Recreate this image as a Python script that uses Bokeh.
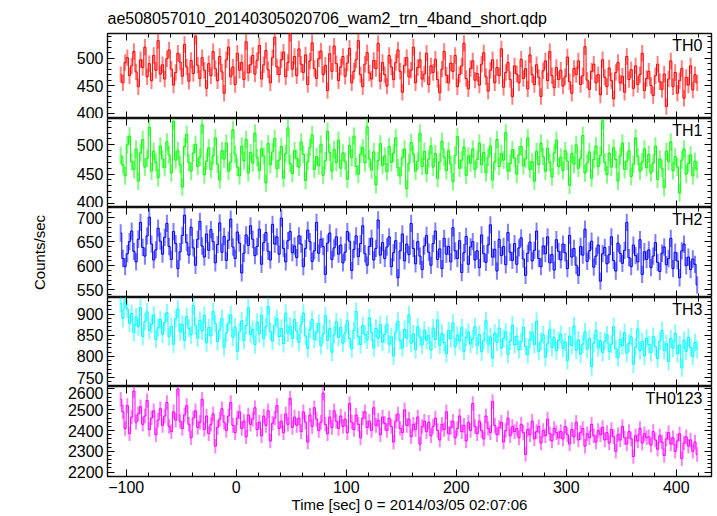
import numpy as np
from bokeh.plotting import figure
from bokeh.layouts import column
from bokeh.models import LinearAxis, FixedTicker, Range1d, Label, ColumnDataSource
from bokeh.embed import file_html
from bokeh.resources import INLINE

TITLE = "ae508057010_20140305020706_wam2_trn_4band_short.qdp"
X_LABEL = "Time [sec] 0 = 2014/03/05 02:07:06"
Y_LABEL = "Counts/sec"

# bin centres (2 s bins)
TIME = list(range(-105, 420, 2))

TH0 = [
 470, 455, 492, 501, 468, 486, 512, 475, 448, 497, 483, 520, 466, 490, 459, 505, 478, 532, 471, 488,
 462, 499, 515, 480, 451, 474, 509, 493, 467, 525, 484, 458, 496, 472, 540, 487, 463, 501, 478, 445,
 490, 468, 512, 481, 459, 503, 475, 436, 497, 520, 466, 484, 452, 509, 478, 492, 461, 530, 473, 488,
 505, 471, 496, 523, 462, 488, 514, 479, 455, 501, 538, 484, 470, 497, 511, 466, 492, 545, 480, 503,
 468, 517, 489, 474, 506, 452, 495, 528, 481, 463, 499, 513, 470, 487, 441, 508, 476, 522, 490, 459,
 484, 503, 467, 491, 518, 455, 476, 497, 532, 470, 448, 489, 510, 473, 462, 496, 481, 527, 458, 492,
 470, 449, 505, 484, 461, 492, 515, 476, 438, 487, 501, 466, 478, 520, 455, 483, 497, 462, 471, 509,
 452, 486, 474, 498, 461, 437, 480, 512, 469, 455, 491, 476, 505, 448, 470, 486, 527, 463, 444, 481,
 495, 460, 472, 451, 489, 510, 466, 440, 478, 497, 455, 483, 468, 517, 447, 474, 492, 461, 430, 486,
 471, 455, 498, 463, 481, 444, 506, 470, 452, 488, 465, 430, 477, 495, 459, 512, 468, 446, 483, 461,
 478, 449, 466, 502, 457, 436, 481, 470, 495, 452, 468, 521, 460, 443, 476, 489, 455, 470, 433, 497,
 465, 448, 482, 459, 426, 474, 492, 455, 467, 438, 503, 461, 479, 445, 486, 452, 470, 509, 441, 463,
 476, 450, 432, 468, 489, 457, 443, 471, 412, 462, 495, 448, 474, 436, 459, 481, 427, 465, 451, 486,
 442, 470, 455]

TH1 = [
 482, 466, 447, 500, 515, 471, 458, 493, 438, 486, 509, 462, 477, 530, 455, 489, 470, 444, 498, 476,
 461, 505, 483, 452, 540, 474, 490, 466, 428, 497, 518, 470, 455, 486, 501, 463, 479, 534, 449, 472,
 495, 458, 481, 512, 467, 440, 490, 476, 503, 455, 471, 526, 484, 462, 447, 498, 473, 509, 452, 487,
 469, 520, 478, 456, 493, 481, 435, 502, 466, 488, 511, 459, 474, 497, 443, 485, 529, 468, 451, 490,
 477, 462, 505, 484, 439, 471, 496, 517, 458, 480, 464, 501, 448, 473, 523, 487, 455, 492, 470, 508,
 460, 486, 472, 441, 499, 478, 515, 463, 450, 484, 495, 469, 531, 476, 457, 488, 432, 473, 502, 465,
 481, 454, 497, 470, 486, 512, 461, 447, 478, 493, 425, 469, 504, 484, 455, 472, 520, 463, 489, 451,
 476, 498, 462, 485, 443, 471, 506, 479, 456, 490, 467, 437, 482, 514, 460, 474, 496, 448, 481, 469,
 493, 458, 475, 503, 466, 487, 452, 479, 498, 440, 471, 509, 463, 485, 474, 521, 455, 468, 492, 477,
 450, 483, 497, 464, 476, 512, 458, 471, 438, 489, 466, 503, 480, 455, 494, 470, 445, 486, 508, 463,
 479, 456, 490, 472, 431, 485, 467, 500, 460, 477, 516, 452, 469, 488, 443, 475, 498, 463, 482, 541,
 470, 449, 486, 462, 495, 475, 438, 481, 503, 458, 472, 490, 446, 467, 512, 480, 455, 471, 493, 461,
 484, 452, 469, 498, 441, 476, 460, 427, 489, 471, 505, 456, 480, 462, 418, 474, 493, 450, 468, 483,
 447, 472, 458]

TH2 = [
 668, 615, 598, 625, 650, 672, 630, 608, 655, 690, 638, 620, 662, 701, 645, 612, 633, 678, 651, 624,
 659, 688, 640, 613, 671, 646, 594, 629, 663, 705, 648, 622, 680, 637, 601, 655, 692, 641, 618, 666,
 632, 675, 650, 606, 644, 689, 628, 661, 611, 653, 697, 639, 615, 670, 647, 585, 626, 664, 642, 683,
 655, 621, 640, 676, 603, 648, 669, 630, 612, 686, 645, 660, 624, 699, 636, 608, 652, 671, 627, 641,
 617, 662, 645, 598, 636, 674, 650, 609, 631, 690, 626, 655, 640, 582, 647, 668, 613, 637, 660, 624,
 643, 606, 628, 671, 651, 590, 634, 662, 619, 646, 683, 625, 601, 640, 657, 612, 636, 695, 622, 648,
 615, 639, 660, 598, 627, 652, 575, 631, 666, 610, 645, 623, 688, 636, 604, 650, 620, 592, 641, 663,
 628, 601, 646, 672, 613, 635, 594, 657, 624, 640, 608, 679, 631, 615, 652, 586, 627, 661, 603, 639,
 650, 612, 631, 596, 664, 625, 607, 643, 685, 618, 634, 589, 655, 621, 640, 602, 669, 628, 611, 646,
 603, 637, 658, 614, 580, 626, 649, 610, 632, 672, 615, 598, 641, 625, 660, 606, 623, 591, 654, 630,
 612, 645, 627, 594, 663, 618, 636, 601, 580, 640, 622, 676, 609, 631, 651, 597, 620, 643, 568, 625,
 638, 604, 623, 660, 611, 589, 647, 626, 605, 632, 690, 617, 598, 643, 621, 608, 654, 582, 629, 613,
 633, 596, 620, 648, 607, 588, 626, 639, 602, 615, 657, 594, 628, 610, 575, 631, 645, 600, 618, 592,
 614, 603, 560]

TH3 = [
 925, 890, 935, 912, 878, 901, 856, 893, 870, 915, 847, 882, 905, 861, 876, 898, 840, 868, 887, 852,
 880, 903, 846, 871, 829, 889, 912, 858, 875, 838, 894, 866, 851, 920, 872, 843, 885, 860, 897, 832,
 868, 849, 906, 877, 835, 862, 890, 821, 855, 879, 898, 845, 869, 812, 858, 884, 837, 873, 915, 852,
 864, 828, 881, 853, 897, 842, 870, 918, 859, 836, 874, 889, 847, 866, 830, 902, 855, 871, 842, 887,
 860, 833, 875, 902, 848, 819, 864, 887, 840, 857, 878, 825, 853, 896, 838, 866, 810, 851, 882, 845,
 869, 831, 855, 884, 842, 818, 861, 906, 847, 828, 873, 852, 839, 891, 857, 820, 866, 843, 875, 834,
 852, 876, 829, 846, 801, 858, 883, 837, 820, 864, 843, 898, 831, 853, 816, 870, 845, 827, 862, 838,
 849, 815, 867, 840, 886, 826, 854, 833, 806, 861, 842, 879, 823, 850, 836, 868, 812, 845, 857, 829,
 841, 870, 825, 852, 811, 838, 884, 829, 846, 796, 855, 833, 867, 820, 843, 858, 805, 836, 874, 827,
 848, 816, 835, 869, 823, 804, 840, 857, 828, 883, 812, 836, 851, 798, 830, 864, 821, 845, 813, 838,
 852, 819, 834, 790, 848, 826, 872, 815, 839, 805, 829, 858, 817, 842, 776, 831, 861, 820, 837, 809,
 836, 851, 812, 829, 870, 818, 797, 840, 825, 856, 808, 831, 846, 782, 822, 865, 814, 835, 801, 843,
 828, 809, 847, 823, 795, 836, 861, 814, 830, 788, 842, 819, 854, 806, 827, 773, 838, 812, 845, 821,
 800, 833, 817]

TH0123 = [
 2550, 2490, 2410, 2520, 2385, 2465, 2590, 2440, 2480, 2515, 2430, 2470, 2545, 2405, 2460, 2495, 2380, 2450, 2505, 2425,
 2470, 2535, 2420, 2395, 2490, 2450, 2600, 2445, 2410, 2475, 2520, 2430, 2365, 2460, 2495, 2415, 2440, 2550, 2405, 2470,
 2385, 2430, 2480, 2325, 2415, 2455, 2505, 2440, 2400, 2470, 2535, 2425, 2390, 2460, 2490, 2410, 2445, 2370, 2475, 2430,
 2455, 2510, 2405, 2440, 2375, 2470, 2425, 2495, 2350, 2435, 2460, 2520, 2410, 2445, 2390, 2480, 2430, 2555, 2415, 2465,
 2425, 2460, 2395, 2490, 2440, 2345, 2475, 2420, 2510, 2455, 2400, 2440, 2580, 2430, 2385, 2465, 2415, 2495, 2445, 2410,
 2470, 2420, 2455, 2390, 2530, 2440, 2405, 2475, 2430, 2365, 2460, 2490, 2415, 2445, 2400, 2510, 2425, 2450, 2380, 2465,
 2435, 2400, 2460, 2420, 2345, 2445, 2480, 2410, 2390, 2500, 2425, 2455, 2370, 2430, 2405, 2465, 2335, 2420, 2445, 2395,
 2440, 2375, 2420, 2460, 2400, 2355, 2430, 2405, 2490, 2385, 2415, 2445, 2365, 2410, 2470, 2395, 2425, 2350, 2440, 2400,
 2530, 2420, 2385, 2445, 2400, 2360, 2470, 2410, 2390, 2540, 2425, 2380, 2415, 2440, 2345, 2400, 2460, 2375, 2420, 2395,
 2410, 2365, 2430, 2390, 2285, 2405, 2380, 2445, 2360, 2395, 2420, 2340, 2400, 2375, 2455, 2385, 2350, 2410, 2390, 2365,
 2395, 2360, 2420, 2380, 2335, 2405, 2370, 2440, 2355, 2390, 2410, 2325, 2385, 2365, 2430, 2375, 2345, 2400, 2380, 2415,
 2355, 2390, 2340, 2405, 2370, 2300, 2380, 2355, 2420, 2365, 2335, 2395, 2360, 2275, 2375, 2350, 2410, 2340, 2385, 2365,
 2370, 2330, 2395, 2355, 2310, 2375, 2345, 2280, 2360, 2390, 2335, 2365, 2300, 2350, 2385, 2265, 2340, 2370, 2325, 2355,
 2300, 2345, 2285]

NAMES = ["TH0", "TH1", "TH2", "TH3", "TH0123"]
SERIES = [TH0, TH1, TH2, TH3, TH0123]
ERRS = [15, 15, 18, 21, 35]
COLORS = ["#ff0000", "#00ff00", "#0000ff", "#00ffff", "#ff00ff"]
Y_RANGES = [(390, 545), (393, 545), (534, 721), (729, 939), (2179, 2612)]
Y_TICKS = [[400, 450, 500], [400, 450, 500], [550, 600, 650, 700],
           [750, 800, 850, 900], [2200, 2300, 2400, 2500, 2600]]
Y_MINOR = [10, 10, 10, 10, 20]
X_TICKS = [-100, 0, 100, 200, 300, 400]
X_MINOR = 20

FONT = "Liberation Sans"
FS = "16px"
HEIGHTS = [118, 89, 90, 89, 129]
TOPS = [28, 0, 0, 0, 0]
BOTTOMS = [0, 0, 0, 0, 39]

xr = Range1d(-117, 432)


def axis(ticks, minor, labels):
    ax = LinearAxis(ticker=FixedTicker(ticks=ticks, minor_ticks=minor),
                    major_tick_in=7, major_tick_out=0,
                    minor_tick_in=4, minor_tick_out=0,
                    axis_line_color=None,
                    major_tick_line_color="black", minor_tick_line_color="black",
                    major_tick_line_width=1, minor_tick_line_width=1,
                    major_label_text_font=FONT,
                    major_label_text_font_size=FS,
                    major_label_text_color="black" if labels else None,
                    major_label_standoff=4 if labels else 0)
    return ax


figs = []
for i in range(5):
    first, last = i == 0, i == 4
    lo, hi = Y_RANGES[i]
    p = figure(width=716, height=HEIGHTS[i], x_range=xr, y_range=Range1d(lo, hi),
               output_backend="svg", toolbar_location=None,
               x_axis_location=None, y_axis_location=None,
               min_border_left=107, min_border_right=5,
               min_border_top=TOPS[i], min_border_bottom=BOTTOMS[i])
    p.grid.visible = False
    p.outline_line_color = "#111111"
    p.outline_line_width = 1.4
    p.background_fill_color = "white"
    p.border_fill_color = "white"

    x_minor = list(range(-120, 441, X_MINOR))
    mstep = Y_MINOR[i]
    y_minor = list(range(int(lo // mstep) * mstep, int(hi) + mstep, mstep))

    left = axis(Y_TICKS[i], y_minor, True)
    right = axis(Y_TICKS[i], y_minor, False)
    top = axis(X_TICKS, x_minor, False)
    bottom = axis(X_TICKS, x_minor, last)
    if last:
        bottom.major_label_overrides = {-100: "\u2212100"}
        bottom.major_label_standoff = 4
        bottom.axis_label = X_LABEL
        bottom.axis_label_text_font = FONT
        bottom.axis_label_text_font_size = "15px"
        bottom.axis_label_text_font_style = "normal"
        bottom.axis_label_text_color = "black"
        bottom.axis_label_standoff = 0
    if i == 2:
        left.axis_label = Y_LABEL
        left.axis_label_text_font = FONT
        left.axis_label_text_font_size = "15px"
        left.axis_label_text_font_style = "normal"
        left.axis_label_text_color = "black"
        left.axis_label_standoff = 26
    p.add_layout(left, "left")
    p.add_layout(right, "right")
    p.add_layout(top, "above")
    p.add_layout(bottom, "below")

    vals = np.array(SERIES[i], dtype=float)
    e = ERRS[i]
    src = ColumnDataSource(dict(t=TIME, v=vals, lo=vals - e, hi=vals + e))
    p.segment(x0="t", y0="lo", x1="t", y1="hi", source=src,
              line_color=COLORS[i], line_alpha=0.5, line_width=2)
    p.step(x="t", y="v", source=src, mode="center",
           line_color=COLORS[i], line_width=1)

    p.add_layout(Label(x=432, y=hi, x_offset=-9, y_offset=-3, text=NAMES[i],
                       text_align="right", text_baseline="top",
                       text_font=FONT, text_font_size=FS, text_color="black"))

    if first:
        p.title.text = TITLE
        p.title.text_font = FONT
        p.title.text_font_size = "16px"
        p.title.text_font_style = "normal"
        p.title.text_color = "black"
        p.title.align = "left"
        p.title.standoff = 14
        p.title.offset = 0
    figs.append(p)

layout = column(*figs, spacing=0)
open("out.html", "w").write(file_html(layout, INLINE))
